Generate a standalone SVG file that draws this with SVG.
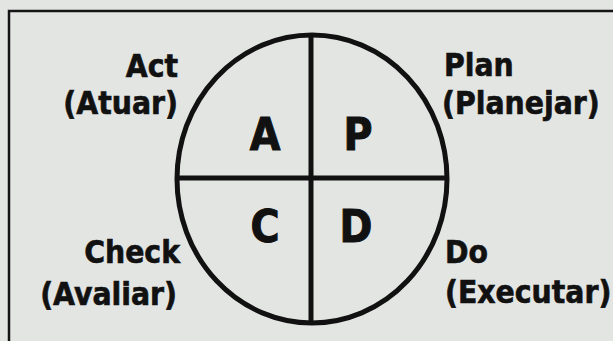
<svg xmlns="http://www.w3.org/2000/svg" width="613" height="341" viewBox="0 0 613 341">
<style>
.lbl{font-family:"DejaVu Sans Condensed","DejaVu Sans",sans-serif;font-weight:bold;font-size:31.5px;fill:#111;stroke:#111;stroke-width:0.6}
.big{font-family:"DejaVu Sans Condensed","DejaVu Sans",sans-serif;font-weight:bold;font-size:44px;fill:#111;stroke:#111;stroke-width:1;text-anchor:middle}
.ln{stroke:#111;stroke-width:5;fill:none}
</style>
<rect x="0" y="0" width="613" height="341" fill="#e3e5e3"/>
<rect x="9" y="11" width="640" height="360" fill="none" stroke="#151515" stroke-width="2.5"/>
<g id="cycle">
<ellipse cx="312" cy="179" rx="135" ry="144" class="ln"/>
</g>
<g id="connectors">
<line x1="311" y1="35" x2="311" y2="323" class="ln"/>
<line x1="177" y1="178" x2="447" y2="178" class="ln"/>
</g>
<g id="quad-A"><text x="265" y="150" class="big">A</text></g>
<g id="quad-P"><text x="358" y="150" class="big">P</text></g>
<g id="quad-C"><text x="265" y="242" class="big">C</text></g>
<g id="quad-D"><text x="356" y="242" class="big">D</text></g>
<g id="label-act">
<text x="178" y="77" class="lbl" text-anchor="end">Act</text>
<text x="178" y="114" class="lbl" text-anchor="end">(Atuar)</text>
</g>
<g id="label-plan">
<text x="444" y="76" class="lbl">Plan</text>
<text x="442" y="114" class="lbl">(Planejar)</text>
</g>
<g id="label-check">
<text x="180" y="263" class="lbl" text-anchor="end">Check</text>
<text x="177" y="305" class="lbl" text-anchor="end">(Avaliar)</text>
</g>
<g id="label-do">
<text x="445" y="263" class="lbl">Do</text>
<text x="445" y="303" class="lbl">(Executar)</text>
</g>
</svg>
